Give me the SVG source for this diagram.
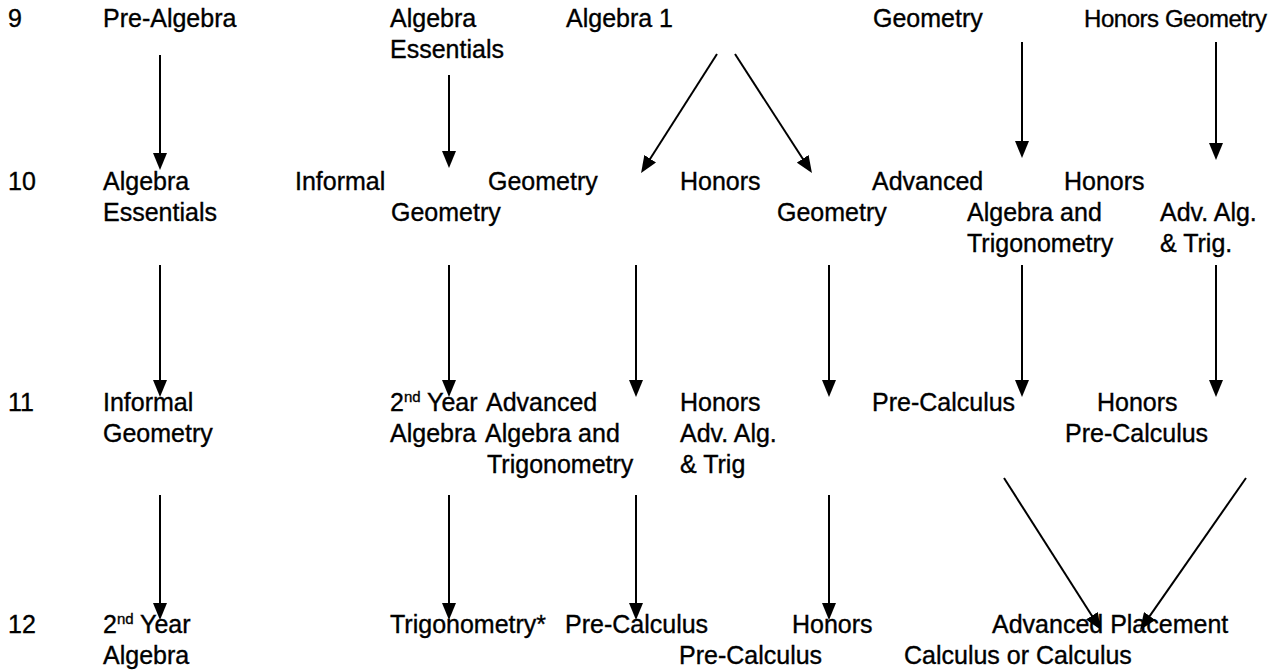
<svg xmlns="http://www.w3.org/2000/svg" width="1277" height="672" viewBox="0 0 1277 672">
<style>
text{font-family:"Liberation Sans",Arial,sans-serif;font-size:25px;fill:#000;stroke:#000;stroke-width:0.35}
.sup{font-size:15px}
.narrow{font-size:24px;letter-spacing:-0.45px}
.c line{stroke:#000;stroke-width:2;fill:none;marker-end:url(#ah)}
</style>
<defs>
<marker id="ah" markerUnits="userSpaceOnUse" markerWidth="18" markerHeight="14" refX="9" refY="7" orient="auto">
<path d="M0,0 L17,7 L0,14 Z" fill="#000"/>
</marker>
</defs>
<rect width="1277" height="672" fill="#fff"/>
<g id="grades">
<text x="8" y="27">9</text>
<text x="8" y="190">10</text>
<text x="8" y="411">11</text>
<text x="8" y="633">12</text>
</g>
<g id="n-prealgebra"><text x="103" y="27">Pre-Algebra</text></g>
<g id="n-algess9"><text x="390" y="27">Algebra</text><text x="390" y="58">Essentials</text></g>
<g id="n-alg1"><text x="566" y="27">Algebra 1</text></g>
<g id="n-geom9"><text x="873" y="27">Geometry</text></g>
<g id="n-hgeom9"><text class="narrow" x="1084" y="27">Honors Geometry</text></g>

<g id="n-algess10"><text x="103" y="190">Algebra</text><text x="103" y="221">Essentials</text></g>
<g id="n-infgeom10"><text x="295" y="190">Informal</text><text x="391" y="221">Geometry</text></g>
<g id="n-geom10"><text x="488" y="190">Geometry</text></g>
<g id="n-hgeom10"><text x="680" y="190">Honors</text><text x="777" y="221">Geometry</text></g>
<g id="n-advalg10"><text x="872" y="190">Advanced</text><text x="967" y="221">Algebra and</text><text x="967" y="252">Trigonometry</text></g>
<g id="n-hadv10"><text x="1064" y="190">Honors</text><text x="1160" y="221">Adv. Alg.</text><text x="1160" y="252">&amp; Trig.</text></g>

<g id="n-infgeom11"><text x="103" y="411">Informal</text><text x="103" y="442">Geometry</text></g>
<g id="n-2yr11"><text x="390" y="411">2<tspan class="sup" dy="-9">nd</tspan><tspan dy="9"> Year</tspan></text><text x="390" y="442">Algebra</text></g>
<g id="n-advalg11"><text x="486" y="411">Advanced</text><text x="485" y="442">Algebra and</text><text x="487" y="473">Trigonometry</text></g>
<g id="n-hadv11"><text x="680" y="411">Honors</text><text x="680" y="442">Adv. Alg.</text><text x="680" y="473">&amp; Trig</text></g>
<g id="n-precalc11"><text x="872" y="411">Pre-Calculus</text></g>
<g id="n-hprecalc11"><text x="1097" y="411">Honors</text><text x="1065" y="442">Pre-Calculus</text></g>

<g id="n-2yr12"><text x="103" y="633">2<tspan class="sup" dy="-9">nd</tspan><tspan dy="9"> Year</tspan></text><text x="103" y="664">Algebra</text></g>
<g id="n-trig12"><text x="390" y="633">Trigonometry*</text></g>
<g id="n-precalc12"><text x="565" y="633">Pre-Calculus</text></g>
<g id="n-hprecalc12"><text x="792" y="633">Honors</text><text x="679" y="664">Pre-Calculus</text></g>
<g id="n-ap12"><text x="992" y="633">Advanced Placement</text><text x="904" y="664">Calculus or Calculus</text></g>

<g id="connectors" class="c">
<line x1="160" y1="55" x2="160" y2="162"/>
<line x1="449" y1="75" x2="449" y2="160"/>
<line x1="717" y1="54" x2="645.4" y2="166.3"/>
<line x1="735" y1="54" x2="807.6" y2="166.3"/>
<line x1="1022" y1="42" x2="1022" y2="150"/>
<line x1="1216" y1="42" x2="1216" y2="152"/>

<line x1="160" y1="265" x2="160" y2="389"/>
<line x1="449" y1="265" x2="449" y2="389"/>
<line x1="636" y1="265" x2="636" y2="389"/>
<line x1="829" y1="265" x2="829" y2="389"/>
<line x1="1022" y1="265" x2="1022" y2="389"/>
<line x1="1216" y1="265" x2="1216" y2="389"/>

<line x1="160" y1="495" x2="160" y2="612"/>
<line x1="449" y1="495" x2="449" y2="612"/>
<line x1="636" y1="495" x2="636" y2="612"/>
<line x1="829" y1="495" x2="829" y2="612"/>
<line x1="1004" y1="478" x2="1096.7" y2="623.3"/>
<line x1="1246" y1="478" x2="1144.6" y2="623.4"/>
</g>
</svg>
